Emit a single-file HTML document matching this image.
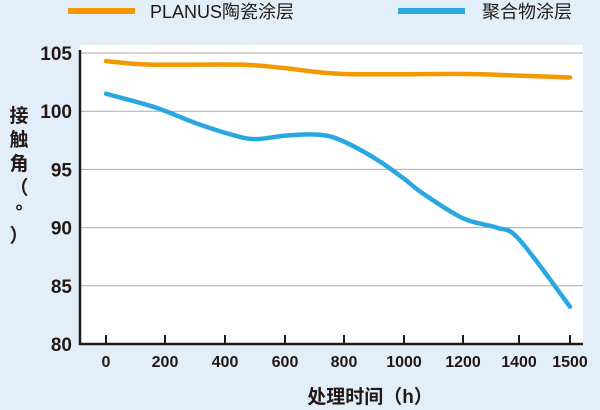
<!DOCTYPE html>
<html><head><meta charset="utf-8"><style>
body{margin:0;background:#e2eff8;}
svg{display:block;font-family:"Liberation Sans","Noto Sans CJK SC",sans-serif;}
</style></head><body>
<svg id="c" width="600" height="410"></svg>
<script>
const xTicks=[0,200,400,600,800,1000,1200,1400,1500];
const yTicks=[80,85,90,95,100,105];
const ceramicX=[0,150,450,600,800,1200,1350,1500];
const ceramicY=[104.3,104.0,104.0,103.7,103.2,103.2,103.1,102.9];
const polymerX=[0,170,300,420,500,600,700,780,900,1000,1060,1200,1320,1400,1500];
const polymerY=[101.5,100.3,99.0,98.0,97.6,97.9,98.0,97.6,96.0,94.2,93.0,90.8,90.0,89.0,83.2];
const tickPx=[106,165,225,285,344,404,463,519,570];
function xs(v){for(let i=0;i<xTicks.length-1;i++){if(v<=xTicks[i+1]){const t=(v-xTicks[i])/(xTicks[i+1]-xTicks[i]);return tickPx[i]+t*(tickPx[i+1]-tickPx[i]);}}return tickPx[tickPx.length-1];}
function ys(v){return 344-(v-80)*(344-53)/25;}
const NS="http://www.w3.org/2000/svg",svg=document.getElementById('c');
function mk(t,a,p){const e=document.createElementNS(NS,t);for(const k in a)e.setAttribute(k,a[k]);(p||svg).appendChild(e);return e;}
const plot=mk('rect',{x:80,y:45,width:503,height:299,fill:'#fff'});


yTicks.forEach(v=>{
 if(v>80){const g=mk('line',{x1:80,x2:583,y1:ys(v),y2:ys(v),stroke:'#aaa','stroke-width':1});
 
 }
 const t=mk('text',{x:72,y:ys(v)+7,'text-anchor':'end','font-size':19,'font-weight':'bold',fill:'#231815'});t.textContent=v;
 
 
});
xTicks.forEach(v=>{
 const l=mk('line',{x1:xs(v),x2:xs(v),y1:335,y2:344,stroke:'#231815','stroke-width':2});
 
 
 const t=mk('text',{x:xs(v),y:367,'text-anchor':'middle','font-size':16,'font-weight':'bold',fill:'#231815'});t.textContent=v;
 
 
});
const ax=mk('path',{d:'M80,50 V344 H583',fill:'none',stroke:'#231815','stroke-width':2.5});


function smooth(X,Y){const p=X.map((x,i)=>[xs(x),ys(Y[i])]);let d='M'+p[0];for(let i=0;i<p.length-1;i++){const p0=p[i-1]||p[i],p1=p[i],p2=p[i+1],p3=p[i+2]||p2;
 const c1=[p1[0]+(p2[0]-p0[0])/6,p1[1]+(p2[1]-p0[1])/6],c2=[p2[0]-(p3[0]-p1[0])/6,p2[1]-(p3[1]-p1[1])/6];d+=' C'+c1+' '+c2+' '+p2;}return d;}
const s1=mk('path',{d:smooth(ceramicX,ceramicY),fill:'none',stroke:'#f39800','stroke-width':4.5,'stroke-linecap':'round'});


const s2=mk('path',{d:smooth(polymerX,polymerY),fill:'none',stroke:'#29a7e1','stroke-width':4.5,'stroke-linecap':'round'});


const l1=mk('line',{x1:68,x2:135,y1:11,y2:11,stroke:'#f39800','stroke-width':6});


const t1=mk('text',{x:150,y:18,'font-size':18,fill:'#231815'});t1.textContent='PLANUS陶瓷涂层';


const l2=mk('line',{x1:398,x2:465,y1:11,y2:11,stroke:'#29a7e1','stroke-width':6});


const t2=mk('text',{x:482,y:18,'font-size':18,fill:'#231815'});t2.textContent='聚合物涂层';


const yt=mk('text',{x:19,y:0,'font-size':19,'font-weight':'bold',fill:'#231815','text-anchor':'middle'});


['接','触','角','（','°','）'].forEach((ch,i)=>{const s=mk('tspan',{x:19,y:122+i*24},yt);s.textContent=ch;});
const xt=mk('text',{x:370,y:403,'font-size':19,'font-weight':'bold',fill:'#231815','text-anchor':'middle'});xt.textContent='处理时间（h）';


</script>
</body></html>
